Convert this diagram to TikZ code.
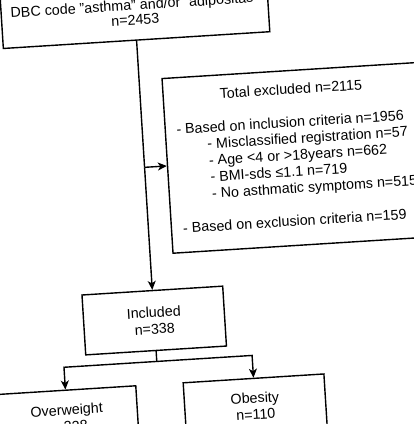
\documentclass[tikz,border=0pt]{standalone}
\usepackage{fontspec}
\setmainfont{Liberation Sans}
\usetikzlibrary{arrows.meta}
\begin{document}
\begin{tikzpicture}[x=1pt,y=1pt,
  box/.style={draw, line width=1.4pt, minimum width=141pt, minimum height=60pt, align=center, inner sep=0pt, transform shape, font=\fontsize{14.3}{16.6}\selectfont},
  txt/.style={inner sep=0pt, transform shape, font=\fontsize{14.3}{16.6}\selectfont},
  conn/.style={line width=1.4pt},
  arr/.style={conn, -{Stealth[length=9pt,width=8pt,inset=2.5pt]}}]
\useasboundingbox (0,0) rectangle (414,424);
\clip (0,0) rectangle (414,424);
\begin{scope}[rotate around={3.6:(207,212)}]
\node[box, minimum width=267pt, minimum height=56pt] (top) at (147.5,416) {\raisebox{-2pt}{DBC code "asthma" and/or "adipositas"}\\n=2453};
\node[box, minimum width=255.5pt, minimum height=175pt] (exc) at (298.25,260.5) {};
\node[txt, anchor=base] (tot) at (298.4,324.4) {Total excluded n=2115};
\node[txt, anchor=base west] (incl) at (181.5,291.4) {- Based on inclusion criteria n=1956};
\node[txt, anchor=base west] (mis) at (211.5,274.9) {- Misclassified registration n=57};
\node[txt, anchor=base west] (age) at (212,258.4) {- Age <4 or >18years n=662};
\node[txt, anchor=base west] (bmi) at (212.5,241.9) {- BMI-sds ≤1.1 n=719};
\node[txt, anchor=base west] (noa) at (213,225.4) {- No asthmatic symptoms n=515};
\node[txt, anchor=base west] (excl) at (182,192.4) {- Based on exclusion criteria n=159};
\node[box] (inc) at (147.5,107) {Included\\n=338};
\node[box, minimum height=56pt] (ow) at (54.5,15) {Overweight\\n=228};
\node[box, minimum height=56pt] (ob) at (243,15) {Obesity\\n=110};
\coordinate (j) at (147.5,260.5);
\coordinate (br) at (147.5,66);
\draw[conn] (top.south) -- (j);
\draw[arr] (j) -- (inc.north);
\draw[arr] (j) -- (exc.west);
\draw[conn] (inc.south) -- (br);
\draw[arr] (br) -| (ow.north);
\draw[arr] (br) -| (ob.north);
\end{scope}
\end{tikzpicture}
\end{document}
